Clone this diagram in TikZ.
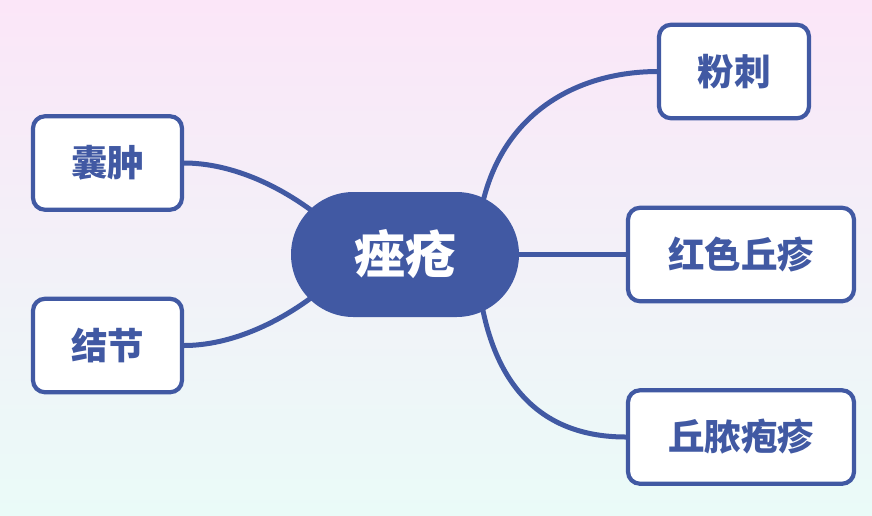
\documentclass[tikz,border=0pt]{standalone}
\usepackage{fontspec}
\newfontfamily\cjk{Noto Sans CJK SC}
\usetikzlibrary{shapes.misc,calc}
\definecolor{mblue}{HTML}{4159A3}
\definecolor{bgtop}{HTML}{FBE6F8}
\definecolor{bgmid}{HTML}{F3F1F8}
\definecolor{bgbot}{HTML}{EAFBF8}
\pgfdeclarelayer{background}
\pgfsetlayers{background,main}
\tikzset{
  leaf/.style={draw=mblue, line width=4.2pt, fill=white, rounded corners=12pt,
    minimum height=93.5pt, text=mblue, font=\cjk\bfseries\fontsize{36.5}{42}\selectfont,
    inner sep=0pt},
  hub/.style={rounded rectangle, fill=mblue, text=white, minimum width=228pt,
    minimum height=125pt, font=\cjk\bfseries\fontsize{51}{57}\selectfont, inner sep=0pt},
  link/.style={draw=mblue, line width=5pt}
}
\begin{document}
\begin{tikzpicture}[x=1pt,y=-1pt]
\useasboundingbox (0,0) rectangle (872,515);
\node[hub] (c) at (405,254.5) {痤疮};
\node[leaf, minimum width=150pt] (a) at (734,71.5) {粉刺};
\node[leaf, minimum width=226pt] (b) at (741,254.5) {红色丘疹};
\node[leaf, minimum width=226pt] (d) at (741,437) {丘脓疱疹};
\node[leaf, minimum width=149pt] (e) at (107.5,163) {囊肿};
\node[leaf, minimum width=149pt] (f) at (107.5,345.5) {结节};
\begin{pgfonlayer}{background}
\shade[top color=bgtop, middle color=bgmid, bottom color=bgbot] (0,0) rectangle (872,515);
\draw[link] ($(c.center)+(73,-24)$) .. controls (490,120) and (570,72) .. (a.west);
\draw[link] (c.center) -- (b.west);
\draw[link] ($(c.center)+(73,24)$) .. controls (490,390) and (545,437) .. (d.west);
\draw[link] ($(c.center)+(-70,-25)$) .. controls (285,185) and (230,163) .. (e.east);
\draw[link] ($(c.center)+(-70,24)$) .. controls (285,323) and (230,345.5) .. (f.east);
\end{pgfonlayer}
\end{tikzpicture}
\end{document}
